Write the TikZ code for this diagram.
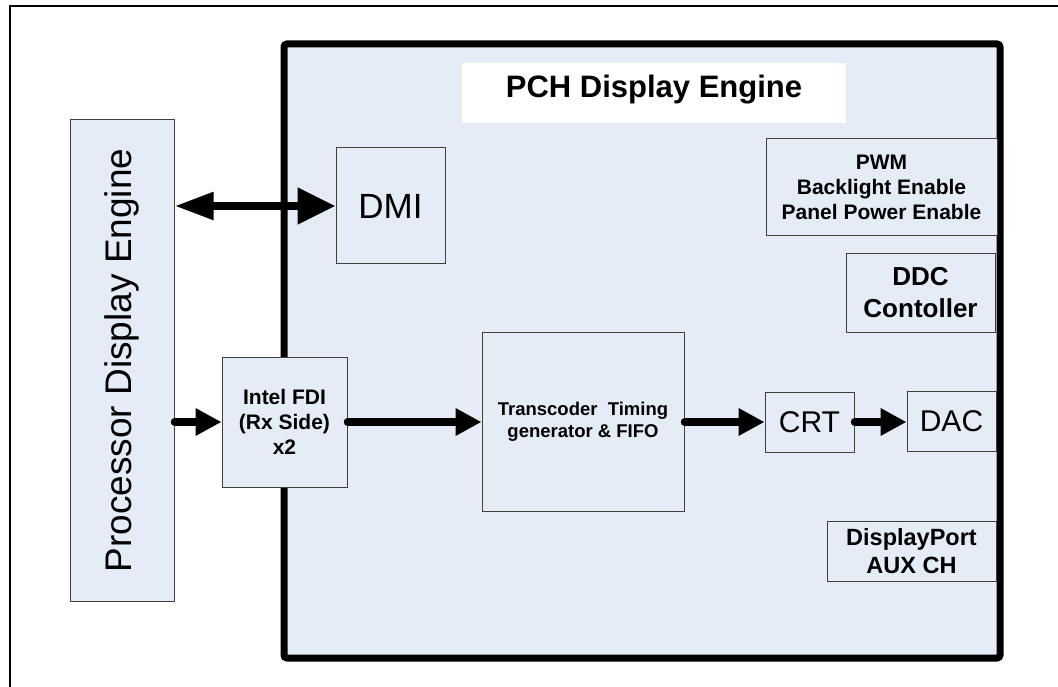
\documentclass[tikz,border=0pt]{standalone}
\usepackage{fontspec}
\usepackage{graphicx}
\setmainfont{Liberation Sans}
\usetikzlibrary{arrows.meta}

\definecolor{boxfill}{HTML}{E6ECF7}
\definecolor{boxline}{HTML}{404040}

\def\outerframe{(10,6) rectangle (1070,700)}
\def\pchframe{(284,44) rectangle (1000,658)}

\tikzset{
	blk/.style={draw=boxline, line width=1pt, fill=boxfill, inner sep=0pt, align=center},
	flow/.style={line width=7.5pt, line cap=round, -{Triangle[length=26pt,width=26pt]}}
}

\begin{document}
\begin{tikzpicture}[x=1pt, y=-1pt]
	
	\useasboundingbox (0,0) rectangle (1058,687);
	\draw[line width=1.5pt] \outerframe;
	\draw[line width=7pt, rounded corners=3pt, fill=boxfill] \pchframe;
	\node[fill=white, minimum width=384pt, minimum height=60pt, text height=22pt, text depth=12pt, font=\fontsize{31}{36}\selectfont\bfseries] (title) at (654,93) {PCH Display Engine};
	
	\node[blk, minimum width=104pt, minimum height=481pt, font=\fontsize{37}{44}\selectfont] (proc) at (122,360.5) {\rotatebox{90}{Processor Display Engine}};
	\node[blk, minimum width=109pt, minimum height=116pt, font=\fontsize{35}{42}\selectfont] (dmi) at (390.5,206) {DMI};
	\node[blk, minimum width=125pt, minimum height=130pt, font=\fontsize{21}{25}\selectfont\bfseries] (fdi) at (284.5,422) {Intel FDI\\(Rx Side)\\x2};
	\node[blk, minimum width=202pt, minimum height=179pt, font=\fontsize{18.5}{22}\selectfont\bfseries] (tc) at (583,421.5) {Transcoder~~Timing\\generator \& FIFO};
	\node[blk, minimum width=231pt, minimum height=97pt, font=\fontsize{21}{25}\selectfont\bfseries] (pwm) at (881.5,187.5) {PWM\\Backlight Enable\\Panel Power Enable};
	\node[blk, minimum width=149pt, minimum height=78pt, font=\fontsize{26}{32}\selectfont\bfseries] (ddc) at (920.5,293) {DDC\\Contoller};
	\node[blk, minimum width=89pt, minimum height=60pt, font=\fontsize{30}{36}\selectfont] (crt) at (809.5,422) {CRT};
	\node[blk, minimum width=89pt, minimum height=60pt, font=\fontsize{30}{36}\selectfont] (dac) at (951.5,421) {DAC};
	\node[blk, minimum width=169pt, minimum height=60pt, font=\fontsize{23.5}{28}\selectfont\bfseries] (dp) at (911.5,551) {DisplayPort\\AUX CH};
	
	\draw[line width=8pt, {Triangle[length=39pt,width=26pt]}-{Triangle[length=38pt,width=35pt]}] (proc.east |- dmi.west) -- (dmi.west);
	\draw[flow] (proc.east |- fdi.west) -- (fdi.west);
	\draw[flow] (fdi.east) -- (fdi.east -| tc.west);
	\draw[flow] (tc.east |- crt.west) -- (crt.west);
	\draw[flow] (crt.east) -- (crt.east -| dac.west);
	
\end{tikzpicture}
\end{document}
